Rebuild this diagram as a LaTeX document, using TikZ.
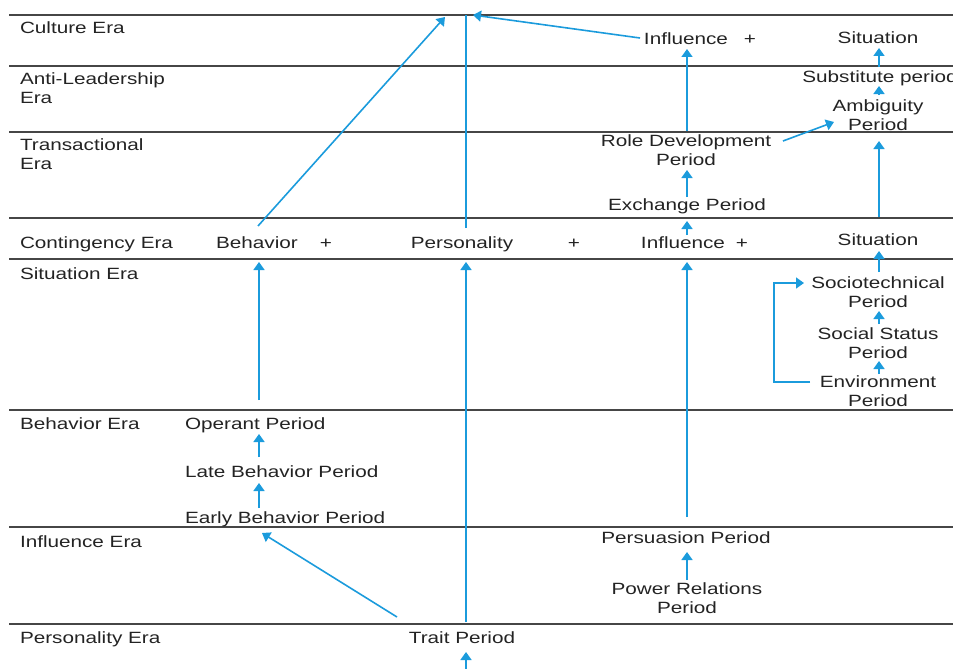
\documentclass[tikz,border=0pt]{standalone}
\usepackage{fontspec}
\setmainfont{Liberation Sans}[FakeStretch=1.27]
\usetikzlibrary{arrows.meta,calc}
\definecolor{arrblue}{RGB}{27,155,220}
\definecolor{txtgray}{RGB}{35,35,35}
\definecolor{rulegray}{RGB}{70,70,70}
\tikzset{
  lbl/.style={inner sep=0pt, outer sep=0pt, text=txtgray, font=\fontsize{16.3}{18.5}\selectfont, align=center},
  eralbl/.style={lbl, anchor=north west, align=left},
  per/.style={lbl, anchor=north},
  plus/.style={lbl, anchor=base},
  thickrule/.style={draw=rulegray, line width=2.6pt},
  thinrule/.style={draw=rulegray, line width=1.6pt},
  arr/.style={draw=arrblue, line width=1.6pt, -{Triangle[length=8pt,width=11pt]}},
  plainline/.style={draw=arrblue, line width=1.6pt}
}
\begin{document}
\begin{tikzpicture}[x=1pt,y=-1pt]
\useasboundingbox (0,0) rectangle (953,669);
% era rules
\draw[thickrule] (9,15) -- (953,15);
\draw[thinrule] (9,66) -- (953,66);
\draw[thickrule] (9,132) -- (953,132);
\draw[thickrule] (9,218) -- (953,218);
\draw[thinrule] (9,259) -- (953,259);
\draw[thinrule] (9,410) -- (953,410);
\draw[thinrule] (9,527) -- (953,527);
\draw[thickrule] (9,624) -- (953,624);
% era labels
\node[eralbl] (cul) at (20,22) {Culture Era};
\node[eralbl] (anti) at (20,73) {Anti-Leadership\\Era};
\node[eralbl] (trans) at (20,139) {Transactional\\Era};
\node[eralbl] (cont) at (20,237) {Contingency Era};
\node[eralbl] (sit) at (20,268) {Situation Era};
\node[eralbl] (behe) at (20,418) {Behavior Era};
\node[eralbl] (infe) at (20,536) {Influence Era};
\node[eralbl] (pere) at (20,632) {Personality Era};
% contingency row
\node[per] (beh) at (257,237) {Behavior};
\node[plus] (p1) at (326,248.7) {+};
\node[per] (pers) at (462,237) {Personality};
\node[plus] (p2) at (574,248.7) {+};
\node[per] (infc) at (683,237) {Influence};
\node[plus] (p3) at (742,248.7) {+};
\node[per] (sitc) at (878,234) {Situation};
% culture row
\node[per] (infu) at (686,33) {Influence};
\node[plus] (p4) at (750,44.7) {+};
\node[per] (situ) at (878,32) {Situation};
% periods
\node[per] (subs) at (880,71) {Substitute period};
\node[per] (amb) at (878,100) {Ambiguity\\Period};
\node[per] (role) at (686,135) {Role Development\\Period};
\node[per] (exch) at (687,199) {Exchange Period};
\node[per] (soc) at (878,277) {Sociotechnical\\Period};
\node[per] (stat) at (878,328) {Social Status\\Period};
\node[per] (env) at (878,376) {Environment\\Period};
\node[lbl, anchor=north west] (oper) at (185,418) {Operant Period};
\node[lbl, anchor=north west] (late) at (185,466) {Late Behavior Period};
\node[lbl, anchor=north west] (early) at (185,512) {Early Behavior Period};
\node[per] (pers2) at (686,532) {Persuasion Period};
\node[per] (power) at (687,583) {Power Relations\\Period};
\node[per] (trait) at (462,632) {Trait Period};
% free ends
\coordinate (t1) at (445,17);
\coordinate (t2) at (466,15);
\coordinate (t3) at (473,15);
\coordinate (bot) at (466,669);
% connectors
\draw[arr] ($(beh.north)+(1,-11)$) -- (t1);
\draw[plainline] ($(pers.north)+(4,-9)$) -- (t2);
\draw[arr] ($(trait.north)+(4,-10)$) -- ($(pers.north)+(4,25)$);
\draw[arr] (bot) -- ($(trait.north)+(4,20)$);
\draw[arr] ($(trait.north)+(-65,-15)$) -- ($(early.north west)+(77,21)$);
\draw[arr] ($(early.north west)+(74,-4)$) -- ($(late.north west)+(74,17)$);
\draw[arr] ($(late.north west)+(74,-9)$) -- ($(oper.north west)+(74,16)$);
\draw[arr] ($(oper.north west)+(74,-18)$) -- ($(beh.north)+(2,25)$);
\draw[arr] ($(power.north)+(0,-3)$) -- ($(pers2.north)+(1,20)$);
\draw[arr] ($(pers2.north)+(1,-15)$) -- ($(infc.north)+(4,25)$);
\draw[arr] ($(infc.north)+(4,-2)$) -- ($(exch.north)+(0,22)$);
\draw[arr] ($(exch.north)+(0,-2)$) -- ($(role.north)+(1,35)$);
\draw[arr] ($(role.north)+(1,-4)$) -- ($(infu.north)+(1,16)$);
\draw[arr] ($(role.north)+(97,6)$) -- ($(amb.north)+(-44,22)$);
\draw[arr] ($(amb.north)+(1,-5)$) -- ($(subs.north)+(-1,15)$);
\draw[arr] ($(subs.north)+(-1,-4)$) -- ($(situ.north)+(1,16)$);
\draw[arr] ($(sitc.north)+(1,-17)$) -- ($(amb.north)+(1,41)$);
\draw[arr] ($(soc.north)+(1,-5)$) -- ($(sitc.north)+(1,17)$);
\draw[arr] ($(stat.north)+(1,-4)$) -- ($(soc.north)+(1,34)$);
\draw[arr] ($(env.north)+(1,-2)$) -- ($(stat.north)+(1,33)$);
\draw[arr] ($(env.north)+(-68,6)$) -| ($(soc.north)+(-104,6)$) -- ($(soc.north)+(-74,6)$);
\draw[arr] ($(infu.north)+(-46,5)$) -- (t3);
\end{tikzpicture}
\end{document}
